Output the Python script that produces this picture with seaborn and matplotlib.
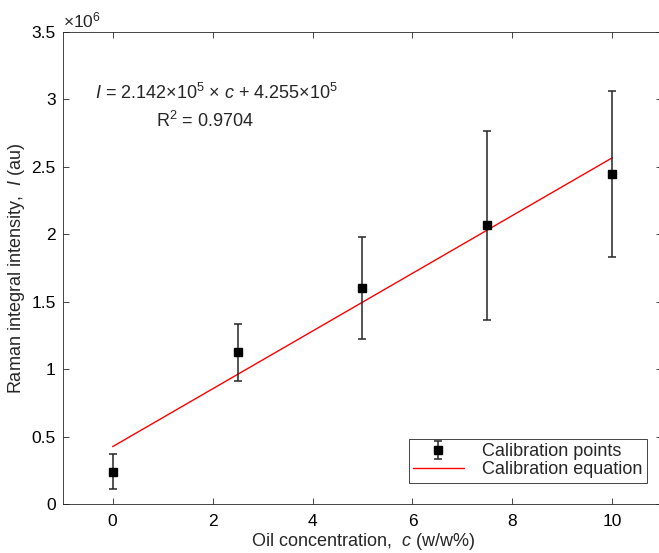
import matplotlib
matplotlib.use("Agg")
import matplotlib.pyplot as plt
import seaborn as sns
import pandas as pd
from matplotlib.ticker import FuncFormatter

# ---- data ----
conc = [0, 2.5, 5, 7.5, 10]
intensity = [0.240e6, 1.124e6, 1.603e6, 2.066e6, 2.449e6]
err = [0.130e6, 0.212e6, 0.380e6, 0.703e6, 0.616e6]
fit_c = [0, 10]
fit_I = [4.255e5, 2.5675e6]
xticks = [0, 2, 4, 6, 8, 10]
yticks = [0, 0.5e6, 1.0e6, 1.5e6, 2.0e6, 2.5e6, 3.0e6, 3.5e6]

sns.set_theme(style="ticks")
plt.rcParams['font.family'] = ['Liberation Sans', 'DejaVu Sans']
plt.rcParams['mathtext.fontset'] = 'custom'
plt.rcParams['mathtext.rm'] = 'Liberation Sans'
plt.rcParams['mathtext.it'] = 'Liberation Sans:italic'
plt.rcParams['mathtext.default'] = 'regular'

fs = 13
tfs = 12.5
dark = '#262626'

fig = plt.figure(figsize=(6.59, 5.53), dpi=100)
W, H = 659, 553
left, right, top, bottom = 62.7, 662.3, 32, 504
ax = fig.add_axes([left / W, (H - bottom) / H, (right - left) / W, (bottom - top) / H])

eb = ax.errorbar(conc, intensity, yerr=err, fmt='s', color='black', ecolor=dark,
                 markersize=6, elinewidth=1.1, capsize=3.2, capthick=1.1,
                 label='Calibration points', zorder=3)
fit_df = pd.DataFrame({'c': fit_c, 'I': fit_I})
sns.lineplot(data=fit_df, x='c', y='I', ax=ax, color='red', linewidth=1.0,
             label='Calibration equation', zorder=2)

ax.set_xlim(-1, 11)
ax.set_ylim(0, 3.5e6)
ax.set_xticks(xticks)
ax.set_yticks(yticks)
ax.yaxis.set_major_formatter(FuncFormatter(lambda v, p: f"{v/1e6:g}"))
ax.tick_params(direction='in', length=4, width=0.6, color=dark, labelsize=tfs,
               labelcolor='black', top=True, right=True)
ax.tick_params(axis='y', pad=5)
ax.tick_params(axis='x', pad=7)
for s in ax.spines.values():
    s.set_linewidth(0.6)
    s.set_color(dark)
    s.set_visible(True)

ax.set_xlabel(r'Oil concentration,  $\mathit{c}$ (w/w%)', fontsize=fs, labelpad=2)
ax.set_ylabel(r'Raman integral intensity,  $\mathit{I}$ (au)', fontsize=fs)
ax.yaxis.set_label_coords((27 - left) / (right - left), 0.5)

ax.text(0.0, 1.003, r'$\times$10$^6$', transform=ax.transAxes, fontsize=tfs,
        ha='left', va='bottom')

ax.text(-0.35, 3.047e6, r'$\mathit{I}$ = 2.142×10$^5$ × $\mathit{c}$ + 4.255×10$^5$',
        fontsize=fs, ha='left', va='center')
ax.text(0.87, 2.84e6, r'R$^2$ = 0.9704', fontsize=fs, ha='left', va='center')

handles, labels = ax.get_legend_handles_labels()
order = [labels.index('Calibration points'), labels.index('Calibration equation')]
leg = ax.legend([handles[i] for i in order], [labels[i] for i in order],
                loc='lower right', fontsize=fs, frameon=True,
                fancybox=False, edgecolor=dark, framealpha=1,
                bbox_to_anchor=((646.7 - left) / (right - left), (bottom - 482.7) / (bottom - top)),
                borderpad=0.25, handlelength=2.8, handletextpad=1.0, labelspacing=0.05,
                borderaxespad=0)
leg.get_frame().set_linewidth(0.6)

fig.savefig('out.png', dpi=100)
